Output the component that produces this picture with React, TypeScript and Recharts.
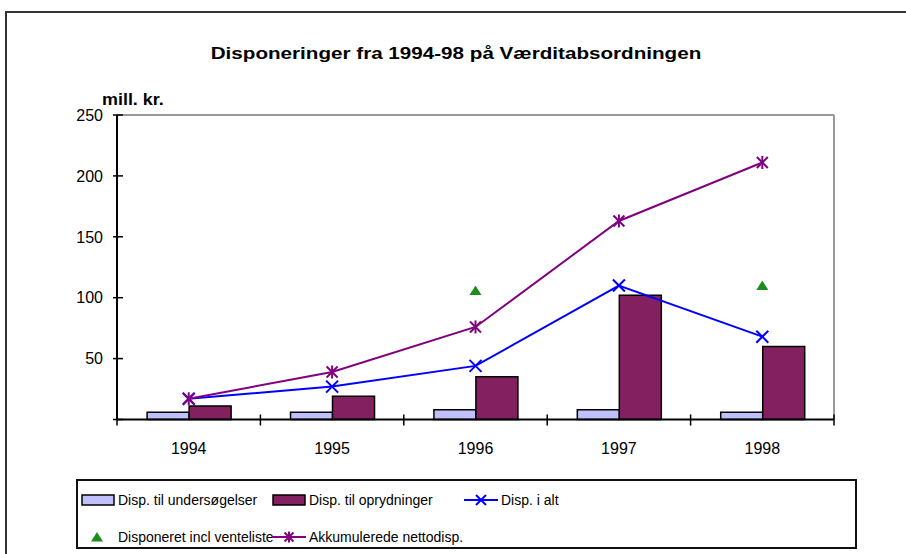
import React from "react";
import {
  ComposedChart,
  Bar,
  Line,
  XAxis,
  YAxis,
  CartesianGrid,
} from "recharts";

// values (mill. kr.)
const years = ["1994", "1995", "1996", "1997", "1998"];
const undersogelser = [6, 6, 8, 8, 6];
const oprydninger = [11, 19, 35, 102, 60];
const iAlt = [17, 27, 44, 110, 68];
const venteliste = [null, null, 106, null, 110];
const akkumuleret = [17, 39, 76, 163, 211];
const yTicks = [0, 50, 100, 150, 200, 250];

const data = years.map((year, i) => ({
  year,
  undersogelser: undersogelser[i],
  oprydninger: oprydninger[i],
  iAlt: iAlt[i],
  venteliste: venteliste[i],
  akkumuleret: akkumuleret[i],
}));

const FONT = "'Liberation Sans', Arial, sans-serif";
const LIGHT = "#C0C0FF";
const DARK = "#822060";
const BLUE = "#0000FF";
const PURPLE = "#800080";
const GREEN = "#1E8C1E";

const XMark = ({ cx, cy, color, r = 6 }: any) => (
  <g>
    <line x1={cx - r} y1={cy - r} x2={cx + r} y2={cy + r} stroke={color} strokeWidth={2} />
    <line x1={cx - r} y1={cy + r} x2={cx + r} y2={cy - r} stroke={color} strokeWidth={2} />
  </g>
);

const StarMark = ({ cx, cy, color, r = 5.5 }: any) => (
  <g>
    <line x1={cx - r} y1={cy - r} x2={cx + r} y2={cy + r} stroke={color} strokeWidth={2} />
    <line x1={cx - r} y1={cy + r} x2={cx + r} y2={cy - r} stroke={color} strokeWidth={2} />
    <line x1={cx} y1={cy - r - 1} x2={cx} y2={cy + r + 1} stroke={color} strokeWidth={2} />
  </g>
);

const Triangle = ({ cx, cy }: any) => (
  <polygon points={`${cx - 6},${cy + 4.5} ${cx + 6},${cy + 4.5} ${cx},${cy - 5}`} fill={GREEN} />
);

const renderDot = (kind: string) => (props: any) => {
  const { cx, cy, value, index } = props;
  if (value == null || cy == null) return <g key={`e-${kind}-${index}`} />;
  if (kind === "x") return <XMark key={`x-${index}`} cx={cx} cy={cy} color={BLUE} />;
  if (kind === "star") return <StarMark key={`s-${index}`} cx={cx} cy={cy} color={PURPLE} />;
  return <Triangle key={`t-${index}`} cx={cx} cy={cy} />;
};

// category label plus crossing tick marks on the band boundaries
const XTick = (props: any) => {
  const { x, y, payload, index, visibleTicksCount } = props;
  const half = payload.offset || 0;
  const isLast = index === visibleTicksCount - 1;
  return (
    <g>
      <line x1={x - half} x2={x - half} y1={y - 5} y2={y + 6} stroke="#000" strokeWidth={1.5} />
      {isLast && <line x1={x + half} x2={x + half} y1={y - 5} y2={y + 6} stroke="#000" strokeWidth={1.5} />}
      <text x={x} y={y + 34} textAnchor="middle" fontSize={16} fontFamily={FONT} fill="#000">
        {payload.value}
      </text>
    </g>
  );
};

const YTick = (props: any) => {
  const { x, y, payload } = props;
  return (
    <g>
      <line x1={x - 4} x2={x + 6} y1={y} y2={y} stroke="#000" strokeWidth={1.5} />
      {payload.value !== 0 && (
        <text x={x - 14} y={y} dy="0.36em" textAnchor="end" fontSize={16} fontFamily={FONT} fill="#000">
          {payload.value}
        </text>
      )}
    </g>
  );
};

const legendItems = [
  { label: "Disp. til undersøgelser", kind: "bar", color: LIGHT },
  { label: "Disp. til oprydninger", kind: "bar", color: DARK },
  { label: "Disp. i alt", kind: "x", color: BLUE },
  { label: "Disponeret incl venteliste", kind: "tri", color: GREEN },
  { label: "Akkumulerede nettodisp.", kind: "star", color: PURPLE },
];

const LegendIcon = ({ kind, color }: any) => (
  <svg width={34} height={14} style={{ flex: "none" }}>
    {kind === "bar" && <rect x={1} y={2} width={32} height={10} fill={color} stroke="#000" strokeWidth={1.5} />}
    {kind === "x" && (
      <g>
        <line x1={0} x2={34} y1={7} y2={7} stroke={color} strokeWidth={2} />
        <XMark cx={17} cy={7} color={color} r={5} />
      </g>
    )}
    {kind === "star" && (
      <g>
        <line x1={0} x2={34} y1={7} y2={7} stroke={color} strokeWidth={2} />
        <StarMark cx={17} cy={7} color={color} r={4.5} />
      </g>
    )}
    {kind === "tri" && <Triangle cx={16} cy={7} />}
  </svg>
);

export default function App() {
  return (
    <div
      style={{
        position: "absolute",
        left: 0,
        top: 0,
        width: 906,
        height: 554,
        overflow: "hidden",
        background: "#fff",
        fontFamily: FONT,
      }}
    >
      {/* outer chart frame */}
      <div
        style={{
          position: "absolute",
          left: 5,
          top: 11,
          width: 940,
          height: 600,
          borderTop: "2px solid #333",
          borderLeft: "2px solid #333",
        }}
      />

      <div
        style={{
          position: "absolute",
          left: 456 - 200,
          top: 44,
          width: 400,
          textAlign: "center",
          fontSize: 16.5,
          fontWeight: "bold",
          transform: "scaleX(1.25)",
          whiteSpace: "nowrap",
        }}
      >
        Disponeringer fra 1994-98 på Værditabsordningen
      </div>
      <div
        style={{
          position: "absolute",
          left: 102,
          top: 91,
          fontSize: 16,
          fontWeight: "bold",
          transform: "scaleX(1.12)",
          transformOrigin: "left",
        }}
      >
        mill. kr.
      </div>

      <div style={{ position: "absolute", left: 0, top: 0 }}>
        <ComposedChart
          width={906}
          height={554}
          data={data}
          margin={{ top: 115, right: 72, bottom: 0, left: 0 }}
          barGap={0}
          barCategoryGap="21%"
        >
          {/* grey plot frame: top and right edges only */}
          <CartesianGrid
            stroke="#999"
            strokeWidth={2}
            horizontalCoordinatesGenerator={({ offset }: any) => [offset.top]}
            verticalCoordinatesGenerator={({ offset }: any) => [offset.left + offset.width]}
          />
          <XAxis
            dataKey="year"
            height={134.5}
            tickSize={0}
            tickMargin={0}
            tickLine={false}
            tick={<XTick />}
            interval={0}
            axisLine={{ stroke: "#000", strokeWidth: 2 }}
          />
          <YAxis
            width={117}
            domain={[0, 250]}
            ticks={yTicks}
            tickSize={0}
            tickMargin={0}
            tickLine={false}
            tick={<YTick />}
            axisLine={{ stroke: "#000", strokeWidth: 2 }}
          />
          <Bar dataKey="undersogelser" fill={LIGHT} stroke="#000" strokeWidth={1.5} isAnimationActive={false} />
          <Bar dataKey="oprydninger" fill={DARK} stroke="#000" strokeWidth={1.5} isAnimationActive={false} />
          <Line
            dataKey="iAlt"
            stroke={BLUE}
            strokeWidth={2}
            dot={renderDot("x")}
            isAnimationActive={false}
          />
          <Line
            dataKey="akkumuleret"
            stroke={PURPLE}
            strokeWidth={2}
            dot={renderDot("star")}
            isAnimationActive={false}
          />
          <Line
            dataKey="venteliste"
            stroke="none"
            dot={renderDot("tri")}
            activeDot={false}
            isAnimationActive={false}
          />
        </ComposedChart>
      </div>

      {/* legend */}
      <div
        style={{
          position: "absolute",
          left: 76,
          top: 479,
          width: 781,
          height: 70,
          boxSizing: "border-box",
          border: "2px solid #111",
          display: "grid",
          gridTemplateColumns: "191px 192px auto",
          gridTemplateRows: "37px 37px",
          paddingLeft: 3,
          alignItems: "center",
          fontSize: 14,
          color: "#000",
        }}
      >
        {legendItems.map((it) => (
          <div key={it.label} style={{ display: "flex", alignItems: "center", gap: 3, whiteSpace: "nowrap" }}>
            <LegendIcon kind={it.kind} color={it.color} />
            <span>{it.label}</span>
          </div>
        ))}
      </div>
    </div>
  );
}
